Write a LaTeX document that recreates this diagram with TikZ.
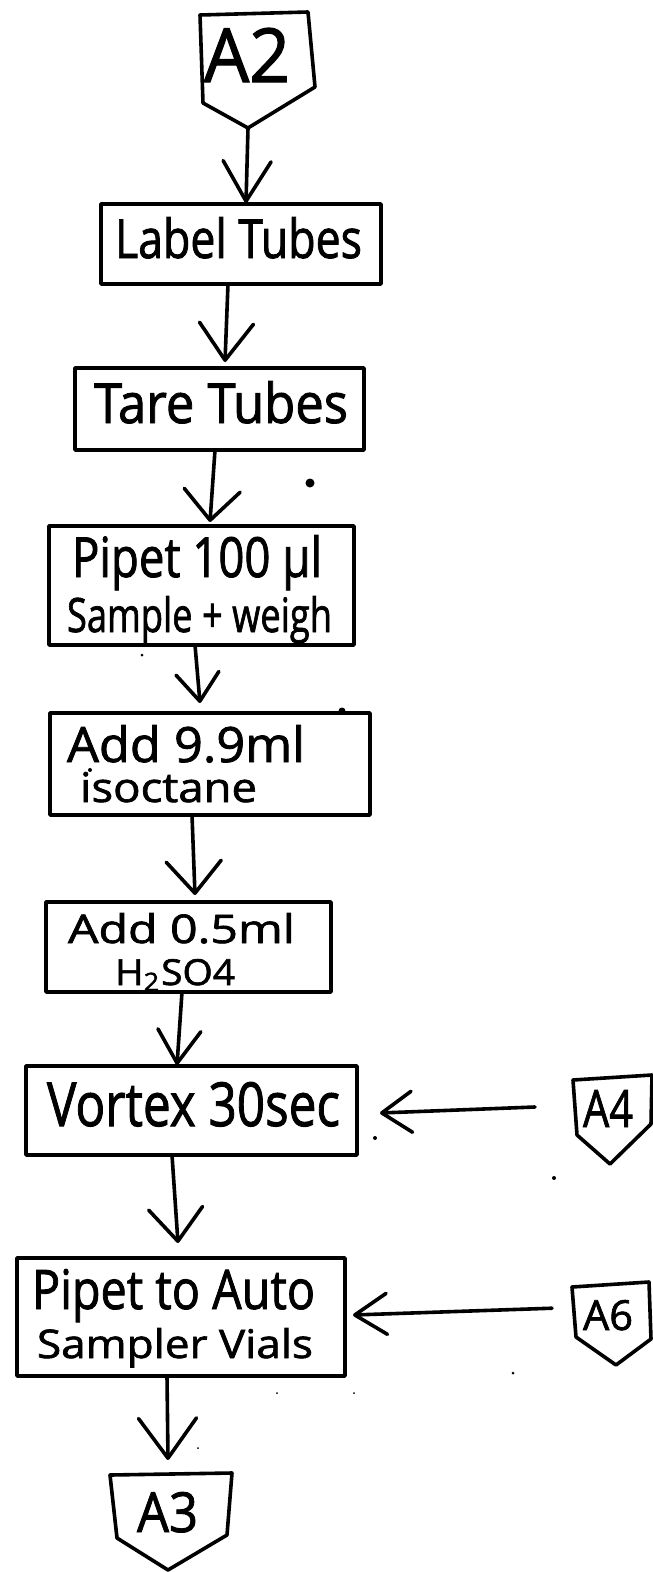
\documentclass[tikz,border=0pt]{standalone}
\usepackage{fontspec}
\usepackage{graphicx}
\newfontfamily\hand{Open Sans}[FakeBold=1.6]
\usetikzlibrary{arrows.meta}

% ink strokes, process boxes, hand lettering and flow arrows
\tikzset{
  ink/.style={line width=3.6pt, line cap=round, line join=round},
  stepbox/.style={ink, draw, rectangle, inner sep=0pt, outer sep=0pt},
  scribble/.style={inner sep=0pt, outer sep=0pt, font=\hand, anchor=base west},
  flow/.style 2 args={ink, -{Straight Barb[length=#1pt, width=#2pt, round]}},
  speck/.style={fill=black},
}
% lettering squeezed to a given width and height (in pt)
\newcommand\hw[3]{\resizebox{#1pt}{#2pt}{#3}}

\begin{document}
\begin{tikzpicture}[x=1pt, y=-1pt]
\fill[white] (0,0) rectangle (653,1572);
\useasboundingbox (0,0) rectangle (653,1572);

% ---- off-page connectors
\draw[ink] (200,15) -- (308,12) -- (315,87) -- (248,128) -- (203,103) -- cycle;
\coordinate (a2tip) at (248,128);
\node[scribble] (a2) at (204,82) {\hw{86}{54}{A2}};

\draw[ink] (573,1080) -- (652,1075) -- (651,1124) -- (610,1164) -- (577,1135) -- cycle;
\node[scribble] (a4) at (583,1127) {\hw{50}{37}{A4}};

\draw[ink] (572,1287) -- (649,1282) -- (651,1339) -- (616,1365) -- (576,1337) -- cycle;
\node[scribble] (a6) at (583,1330) {\hw{50}{30}{A6}};

\draw[ink] (110,1475) -- (232,1473) -- (227,1535) -- (168,1570) -- (117,1538) -- cycle;
\node[scribble] (a3) at (137,1532) {\hw{61}{40}{A3}};

% ---- process steps
\node[stepbox, minimum width=280pt, minimum height=80pt]  (label)  at (241,244)    {};
\node[stepbox, minimum width=289pt, minimum height=82pt]  (tare)   at (219.5,409)  {};
\node[stepbox, minimum width=305pt, minimum height=119pt] (pipet)  at (201.5,585.5){};
\node[stepbox, minimum width=320pt, minimum height=102pt] (add99)  at (210,764)    {};
\node[stepbox, minimum width=285pt, minimum height=90pt]  (add05)  at (188.5,947)  {};
\node[stepbox, minimum width=331pt, minimum height=89pt]  (vortex) at (191.5,1110.5){};
\node[stepbox, minimum width=328pt, minimum height=118pt] (pipet2) at (181,1317)   {};

% ---- lettering
\node[scribble] (label-t)  at (115,258)  {\hw{247}{41}{Label Tubes}};
\node[scribble] (tare-t)   at (94,423)   {\hw{254}{42}{Tare Tubes}};
\node[scribble] (pipet-t1) at (72,577)   {\hw{250}{42}{Pipet 100 µl}};
\node[scribble] (pipet-t2) at (67,632)   {\hw{265}{36}{Sample + weigh}};
\node[scribble] (add99-t1) at (67,762)   {\hw{238}{37}{Add 9.9ml}};
\node[scribble] (add99-t2) at (80,802)   {\hw{177}{30}{isoctane}};
\node[scribble] (add05-t1) at (68,943)   {\hw{227}{30}{Add 0.5ml}};
\node[scribble] (add05-t2) at (115,985)  {\hw{120}{26}{H\textsubscript{2}SO4}};
\node[scribble] (vortex-t) at (47,1126)  {\hw{293}{44}{Vortex 30sec}};
\node[scribble] (pipet2-t1) at (32,1309) {\hw{283}{40}{Pipet to Auto}};
\node[scribble] (pipet2-t2) at (37,1358) {\hw{276}{30}{Sampler Vials}};

% ---- flow
\draw[flow={40}{48}] (a2tip) -- ([shift={(5,-1)}]label.north);
\draw[flow={37}{54}] ([shift={(-13,0)}]label.south) -- ([shift={(5.5,-6)}]tare.north);
\draw[flow={30}{56}] ([shift={(-4.5,0)}]tare.south) -- ([shift={(8.5,-4)}]pipet.north);
\draw[flow={28}{43}] ([shift={(-6.5,0)}]pipet.south) -- ([shift={(-10,-10)}]add99.north);
\draw[flow={32}{55}] ([shift={(-18,0)}]add99.south) -- ([shift={(6.5,-7)}]add05.north);
\draw[flow={33}{43}] ([shift={(-6.5,0)}]add05.south) -- ([shift={(-14.5,-1)}]vortex.north);
\draw[flow={33}{54}] ([shift={(-19.5,0)}]vortex.south) -- ([shift={(-3,-15)}]pipet2.north);
\draw[flow={40}{58}] ([shift={(-14,0)}]pipet2.south) -- ([shift={(0.5,-32)}]a3.north);
\draw[flow={30}{41}] ([shift={(-48,-1.5)}]a4.west) -- ([shift={(23,2.5)}]vortex.east);
\draw[flow={32}{41}] ([shift={(-31,-7)}]a6.west) -- ([shift={(8,-2)}]pipet2.east);

% ---- stray pen marks
\fill[speck] (310,483) circle[radius=4.5pt];
\fill[speck] (342,711) circle[radius=3.5pt];
\fill[speck] (90,770) circle[radius=2pt];
\fill[speck] (142,655) circle[radius=1.5pt];
\fill[speck] (375,1138) circle[radius=2pt];
\fill[speck] (554,1178) circle[radius=2pt];
\fill[speck] (513,1373) circle[radius=1.5pt];
\fill[speck] (277,1393) circle[radius=1pt];
\fill[speck] (354,1393) circle[radius=1pt];
\fill[speck] (198,1448) circle[radius=1pt];
\end{tikzpicture}
\end{document}
